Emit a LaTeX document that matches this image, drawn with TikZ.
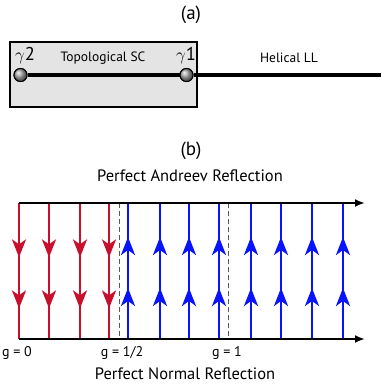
\documentclass[tikz,border=0pt]{standalone}
\usepackage{fontspec}
\setmainfont{PT Sans}
\usepackage{tikz}
\usetikzlibrary{arrows.meta,decorations.markings,shadings}
\definecolor{flowred}{RGB}{200, 16, 46}
\definecolor{flowblue}{RGB}{10, 20, 250}
\definecolor{scgray}{RGB}{228, 228, 228}

\begin{document}
\begin{tikzpicture}[
    x=1pt, y=-1pt,
    font=\fontsize{13.5}{16}\selectfont,
    >={Latex[length=10pt, width=8pt]},
    panel/.style={font=\fontsize{19}{22}\selectfont},
    scbox/.style={draw, line width=1.6pt, fill=scgray},
    wire/.style={line width=4.8pt},
    majorana/.style={circle, draw, line width=1pt, minimum size=13pt, inner sep=0pt, ball color=gray!70},
    gammalabel/.style={font=\fontsize{18.5}{21}\selectfont},
    axis/.style={->, line width=2.2pt},
    caption/.style={font=\fontsize{16.5}{19}\selectfont},
    glabel/.style={font=\fontsize{14}{16}\selectfont},
    crit/.style={draw=gray!70!black, line width=1pt, dash pattern=on 5pt off 3pt},
    flowdown/.style={draw=flowred, line width=2.6pt, postaction={decorate},
      decoration={markings,
        mark=at position 0.40 with {\arrow[flowred]{Stealth[length=18pt, width=14pt, inset=5pt]}},
        mark=at position 0.775 with {\arrow[flowred]{Stealth[length=18pt, width=14pt, inset=5pt]}}}},
    flowup/.style={draw=flowblue, line width=2.6pt, postaction={decorate},
      decoration={markings,
        mark=at position 0.375 with {\arrow[flowblue]{Stealth[length=18pt, width=14pt, inset=5pt]}},
        mark=at position 0.75 with {\arrow[flowblue]{Stealth[length=18pt, width=14pt, inset=5pt]}}}}
]
\useasboundingbox (0,0) rectangle (381,385);

% ===================== (a) SETUP =====================
\node[panel] (labela) at (191,15) {(a)};
\draw[scbox] (10,42) rectangle (197,107);

\coordinate (wireend) at (381,75);
\node[majorana] (gamma2) at (20.5,75) {};
\node[majorana] (gamma1) at (186.5,75) {};
\draw[wire] (gamma2) -- (gamma1);
\draw[wire] (gamma1) -- (wireend);
\node[majorana] at (gamma2) {};
\node[majorana] at (gamma1) {};

\node[gammalabel] (g2text) at (25,56) {$\gamma$2};
\node[gammalabel] (g1text) at (186,56) {$\gamma$1};
\node (sctext) at (103,58) {Topological SC};
\node (lltext) at (289,58) {Helical LL};

% ===================== (b) FLOW =====================
\node[panel] (labelb) at (191,151) {(b)};
\node[caption] (andreev) at (190,176) {Perfect Andreev Reflection};
\node[caption] (normal) at (185,374) {Perfect Normal Reflection};

\coordinate (topstart) at (19,203);
\coordinate (topend) at (365,203);
\coordinate (botstart) at (19,339);
\coordinate (botend) at (365,339);

\draw[crit] (119,203) -- (119,339);
\draw[crit] (228,203) -- (228,339);

\draw[flowdown] (19,203) -- (19,339);
\draw[flowdown] (49,203) -- (49,339);
\draw[flowdown] (80,203) -- (80,339);
\draw[flowdown] (109,203) -- (109,339);

\draw[flowup] (128,339) -- (128,203);
\draw[flowup] (160,339) -- (160,203);
\draw[flowup] (189,339) -- (189,203);
\draw[flowup] (219,339) -- (219,203);
\draw[flowup] (251,339) -- (251,203);
\draw[flowup] (281,339) -- (281,203);
\draw[flowup] (312,339) -- (312,203);
\draw[flowup] (343,339) -- (343,203);

\draw[axis] (topstart) -- (topend);
\draw[axis] (botstart) -- (botend);

\node[glabel] (g0) at (17,353) {g = 0};
\node[glabel] (ghalf) at (122,353) {g = 1/2};
\node[glabel] (gone) at (227,353) {g = 1};

\end{tikzpicture}
\end{document}
